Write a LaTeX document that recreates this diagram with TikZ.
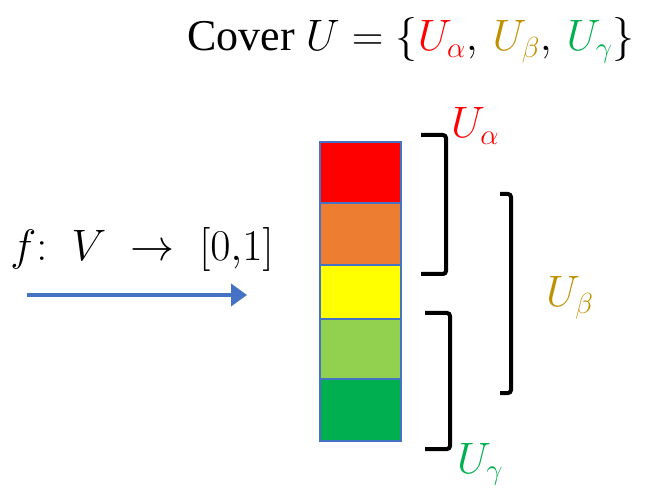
\RequirePackage{fix-cm}
\documentclass[tikz,border=0pt]{standalone}
\usepackage{fontspec}
\setmainfont{Liberation Serif}
\usetikzlibrary{arrows.meta}
\newcommand\mysub[1]{_{\mbox{\fontsize{29}{30}\selectfont$#1$}}}
\definecolor{cred}{HTML}{FF0000}
\definecolor{corange}{HTML}{ED7D31}
\definecolor{cyellow}{HTML}{FFFF00}
\definecolor{clgreen}{HTML}{92D050}
\definecolor{cdgreen}{HTML}{00B050}
\definecolor{cgold}{HTML}{BF9000}
\definecolor{cblue}{HTML}{4472C4}
\tikzset{
  seg/.style={draw=cblue, line width=2pt, minimum width=81pt, inner sep=0pt, anchor=north west},
  brk/.style={line width=4pt, rounded corners=3pt},
  big/.style={font=\fontsize{44}{50}\selectfont, inner sep=0pt},
}
\begin{document}
\begin{tikzpicture}[x=1pt,y=-1pt]
\useasboundingbox (0,0) rectangle (657,492);
% title
\node[big, anchor=base] (title) at (411,51) {Cover $U=\{{\color{cred}U\mysub{\alpha}},\,{\color{cgold}U\mysub{\beta}},\,{\color{cdgreen}U\mysub{\gamma}}\}$};
% function label
\node[big, anchor=base] (flabel) at (142,261) {$f{:}\;\;V\;\rightarrow\;[0{,}1]$};
% arrow
\coordinate (as) at (27,295);
\coordinate (ae) at (247,295);
\draw[cblue, line width=4pt, -{Triangle[length=16pt,width=22pt]}] (as) -- (ae);
% stack
\node[seg, fill=cred, minimum height=61pt] (s1) at (318.5,141) {};
\node[seg, fill=corange, minimum height=62pt] (s2) at (318.5,202) {};
\node[seg, fill=cyellow, minimum height=54pt] (s3) at (318.5,264) {};
\node[seg, fill=clgreen, minimum height=60pt] (s4) at (318.5,318) {};
\node[seg, fill=cdgreen, minimum height=62pt] (s5) at (318.5,378) {};
% brackets
\draw[brk] (421,135) -- (446,135) -- (446,274) -- (421,274);
\draw[brk] (425,313) -- (450,313) -- (450,449) -- (425,449);
\draw[brk] (500,194) -- (511,194) -- (511,393) -- (500,393);
% labels
\node[big, anchor=base west, text=cred] (la) at (451,138) {$U\mysub{\alpha}$};
\node[big, anchor=base west, text=cgold] (lb) at (546,307) {$U\mysub{\beta}$};
\node[big, anchor=base west, text=cdgreen] (lg) at (457,473) {$U\mysub{\gamma}$};
\end{tikzpicture}
\end{document}
